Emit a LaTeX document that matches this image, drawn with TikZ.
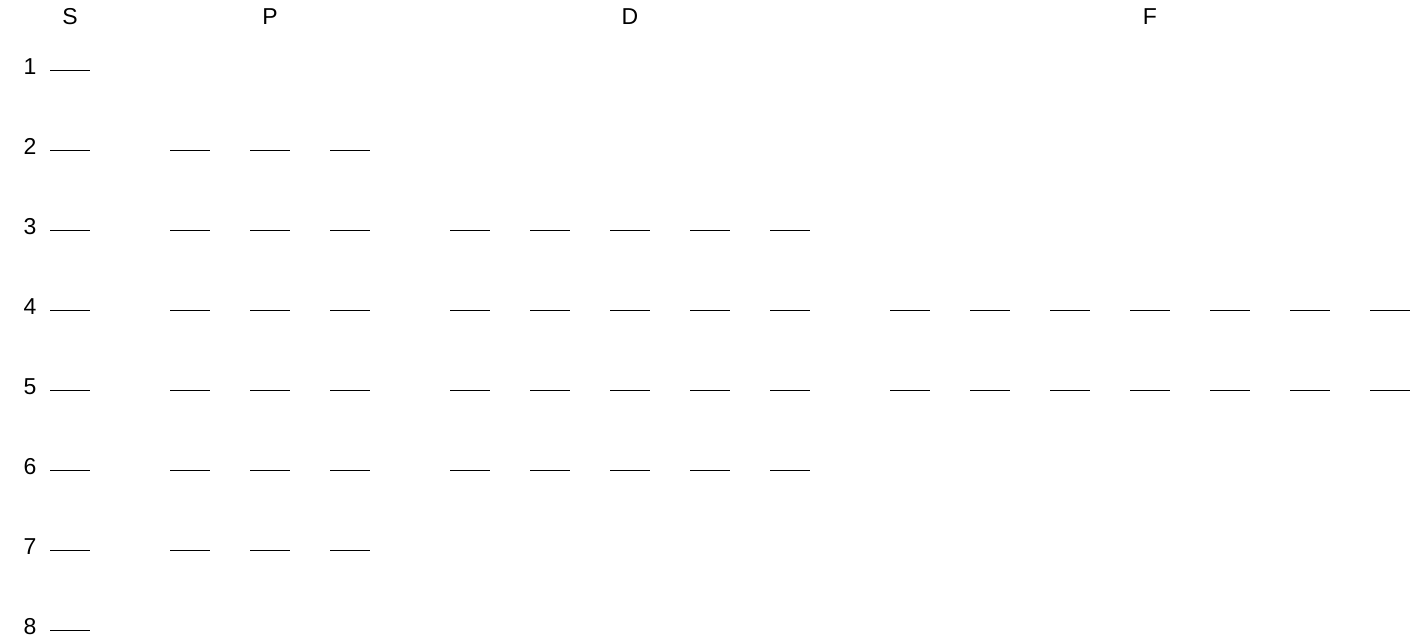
\documentclass[tikz,border=0pt]{standalone}
\usepackage{fontspec}
\setmainfont{Liberation Sans}
\usetikzlibrary{positioning}

\begin{document}
\begin{tikzpicture}[x=1pt,y=-1pt,
  lvl/.style={line width=1pt},
  lbl/.style={anchor=base,inner sep=0pt,font=\fontsize{23}{27}\selectfont}
]
\useasboundingbox (0,0) rectangle (1412,640);
% subshell headers
\node[lbl] (hs) at (70,24) {S};
\node[lbl] (hp) at (270,24) {P};
\node[lbl] (hd) at (630,24) {D};
\node[lbl] (hf) at (1150,24) {F};

% shell numbers and s levels
\foreach \n in {1,...,8}{
  \pgfmathsetmacro\yy{70+80*(\n-1)}
  \node[lbl] (n\n) at (30,\yy+4) {\n};
  \draw[lvl] (50,\yy) -- (90,\yy);
}
% p levels
\foreach \n in {2,...,7}{
  \pgfmathsetmacro\yy{70+80*(\n-1)}
  \foreach \k in {0,1,2}
    \draw[lvl] (170+80*\k,\yy) -- (210+80*\k,\yy);
}
% d levels
\foreach \n in {3,...,6}{
  \pgfmathsetmacro\yy{70+80*(\n-1)}
  \foreach \k in {0,...,4}
    \draw[lvl] (450+80*\k,\yy) -- (490+80*\k,\yy);
}
% f levels
\foreach \n in {4,5}{
  \pgfmathsetmacro\yy{70+80*(\n-1)}
  \foreach \k in {0,...,6}
    \draw[lvl] (890+80*\k,\yy) -- (930+80*\k,\yy);
}
\end{tikzpicture}
\end{document}
